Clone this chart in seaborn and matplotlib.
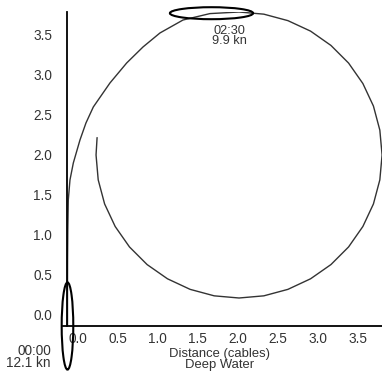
import numpy as np
import pandas as pd
import matplotlib
matplotlib.use("Agg")
import matplotlib.pyplot as plt
import matplotlib.transforms as mtransforms
from matplotlib.patches import Ellipse
import seaborn as sns

# ---- data (cables) ----
track_x = [0.000, 0.000, 0.001, 0.004, 0.010, 0.031, 0.073, 0.156, 0.231, 0.323,
           0.531, 0.740, 0.944, 1.156, 1.444, 1.780,
           2.144, 2.454, 2.755, 3.038, 3.293, 3.513, 3.692, 3.824, 3.904, 3.932,
           3.904, 3.824, 3.692, 3.513, 3.293, 3.038, 2.755, 2.454, 2.144, 1.834,
           1.533, 1.250, 0.995, 0.775, 0.596, 0.464, 0.384, 0.357, 0.370]
track_y = [0.000, 0.450, 0.825, 1.200, 1.575, 1.825, 2.038, 2.325, 2.538, 2.738,
           3.038, 3.288, 3.488, 3.663, 3.825, 3.905,
           3.925, 3.898, 3.817, 3.686, 3.507, 3.287, 3.031, 2.749, 2.448, 2.138,
           1.827, 1.526, 1.244, 0.988, 0.768, 0.590, 0.458, 0.377, 0.350, 0.377,
           0.458, 0.590, 0.768, 0.988, 1.244, 1.526, 1.827, 2.138, 2.355]

ship_x = [0.0, 1.80]
ship_y = [0.0, 3.91]
ship_w = [0.145, 1.04]
ship_h = [1.09, 0.15]
ship_time = ["00:00", "02:30"]
ship_speed = ["12.1 kn", "9.9 kn"]

x_ticks = [0.0, 0.5, 1.0, 1.5, 2.0, 2.5, 3.0, 3.5]
y_ticks = [0.0, 0.5, 1.0, 1.5, 2.0, 2.5, 3.0, 3.5]
x_label = "Distance (cables)"
x_label2 = "Deep Water"

# ---- style ----
sns.set_style("white")
plt.rcParams["font.family"] = ["Liberation Sans", "DejaVu Sans"]
txt_col = "#333333"
fs = 9.8

W, H = 382, 375
fig = plt.figure(figsize=(W / 100, H / 100), dpi=100)
ax_left, ax_right, ax_bottom, ax_top = 63, 382, 326, 12
ax = fig.add_axes([ax_left / W, (H - ax_bottom) / H,
                   (ax_right - ax_left) / W, (ax_bottom - ax_top) / H])

df = pd.DataFrame({"x": track_x, "y": track_y})
sns.lineplot(data=df, x="x", y="y", sort=False, estimator=None,
             color="#333333", linewidth=1.0, ax=ax)

for sx, sy, w, h in zip(ship_x, ship_y, ship_w, ship_h):
    ax.add_patch(Ellipse((sx, sy), w, h, fill=False, ec="black", lw=1.5,
                         clip_on=False, zorder=5))

ax.set_xlim(-0.056, 3.931)
ax.set_ylim(0, 3.925)

for s in ["top", "right"]:
    ax.spines[s].set_visible(False)
ax.spines["left"].set_position(("data", 0))
for s in ["left", "bottom"]:
    ax.spines[s].set_color("black")
    ax.spines[s].set_linewidth(1.3)

ax.set_xticks(x_ticks)
ax.set_yticks(y_ticks)
ax.set_xticklabels([f"{v:.1f}" for v in x_ticks])
ax.set_yticklabels([f"{v:.1f}" for v in y_ticks])
ax.tick_params(direction="inout", length=5, width=1, color="black",
               labelsize=fs, labelcolor=txt_col)
ax.tick_params(axis="x", pad=1.5)
ax.tick_params(axis="y", pad=8.5)
ax.set_xlabel("")
ax.set_ylabel("")

dx = mtransforms.ScaledTranslation(10 / 100, 0, fig.dpi_scale_trans)
dy = mtransforms.ScaledTranslation(0, 12 / 100, fig.dpi_scale_trans)
for lab in ax.get_xticklabels():
    lab.set_transform(lab.get_transform() + dx)
for lab in ax.get_yticklabels():
    lab.set_transform(lab.get_transform() + dy)

# annotations
ax.text(-0.206, -0.39, ship_time[0] + "\n" + ship_speed[0], ha="right",
        va="center", multialignment="right", fontsize=fs, linespacing=0.85,
        color=txt_col, clip_on=False)
ax.text(2.03, 3.63, ship_time[1] + "\n" + ship_speed[1], ha="center",
        va="center", multialignment="center", fontsize=9.2, linespacing=0.78,
        color=txt_col, clip_on=False)

fig.text(219.5 / W, 1 - 359.5 / H, x_label + "\n" + x_label2, ha="center",
         va="center", multialignment="center", fontsize=9.4, linespacing=0.85,
         color=txt_col)

fig.savefig("out.png", dpi=100)
